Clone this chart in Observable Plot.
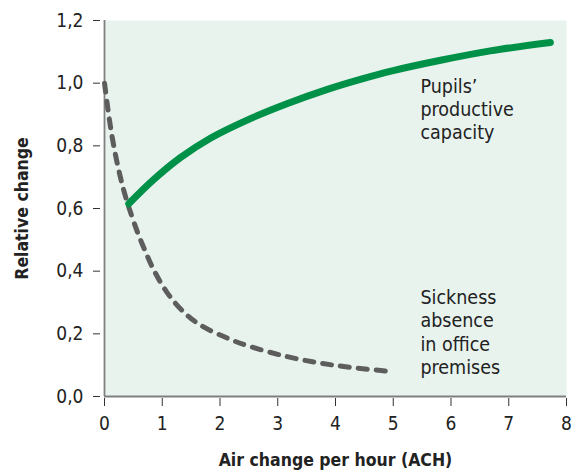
<!DOCTYPE html>
<html>
<head>
<meta charset="utf-8">
<script src="https://cdn.jsdelivr.net/npm/d3@7"></script>
<script src="https://cdn.jsdelivr.net/npm/@observablehq/plot@0.6"></script>
<style>
  html, body { margin: 0; padding: 0; background: #ffffff; }
  svg text { font-stretch: condensed; }
</style>
</head>
<body>
<div id="chart"></div>
<script>
// Pupils' productive capacity (solid green)
const pupilsX = [0.42, 0.85, 1.32, 1.84, 2.48, 3.17, 3.86, 4.43, 5.0, 5.82, 6.68, 7.72];
const pupilsY = [0.615, 0.692, 0.763, 0.825, 0.883, 0.935, 0.98, 1.012, 1.04, 1.073, 1.103, 1.13];

// Sickness absence in office premises (dashed grey)
const sickX = [0, 0.05, 0.1, 0.16, 0.24, 0.33, 0.42, 0.57, 0.68, 0.85, 1.09, 1.37, 1.66, 2.13, 2.48, 3.1, 3.69, 4.26, 5.0];
const sickY = [1.0, 0.93, 0.865, 0.8, 0.728, 0.66, 0.605, 0.525, 0.475, 0.405, 0.33, 0.27, 0.228, 0.186, 0.162, 0.13, 0.108, 0.093, 0.079];

const xTicks = [0, 1, 2, 3, 4, 5, 6, 7, 8];
const yTicks = [0, 0.2, 0.4, 0.6, 0.8, 1.0, 1.2];

const xLabel = "Air change per hour (ACH)";
const yLabel = "Relative change";
const pupilsLabel = "Pupils’\nproductive\ncapacity";
const sickLabel = "Sickness\nabsence\nin office\npremises";
const pupilsLabelPos = {x: 5.47, y: 1.02};
const sickLabelPos = {x: 5.47, y: 0.347};

const pupils = pupilsX.map((x, i) => ({x, y: pupilsY[i]}));
const sick = sickX.map((x, i) => ({x, y: sickY[i]}));

const font = "'DejaVu Sans Condensed', 'Liberation Sans Narrow', 'DejaVu Sans', sans-serif";

const chart = Plot.plot({
  width: 575,
  height: 472,
  marginLeft: 104,
  marginRight: 9,
  marginTop: 20,
  marginBottom: 76,
  x: {domain: [0, 8]},
  y: {domain: [0, 1.2]},
  style: {fontFamily: font, fontSize: "19px", color: "#222", background: "#ffffff"},
  marks: [
    Plot.frame({fill: "#e8f3ee", stroke: null}),
    Plot.axisY(yTicks, {
      tickSize: 7, dx: -4, tickPadding: 10, label: null,
      tickFormat: d => d.toFixed(1).replace(".", ","),
      fontSize: 19, stroke: "#333", fill: "#222"
    }),
    Plot.axisX(xTicks, {
      tickSize: 8, dy: 2, tickPadding: 10, label: null,
      tickFormat: d => String(d), fontSize: 19, stroke: "#333", fill: "#222"
    }),
    Plot.ruleX([0], {stroke: "#808080", strokeWidth: 1.8}),
    Plot.ruleY([0], {stroke: "#808080", strokeWidth: 1.8}),
    Plot.line(sick, {
      x: "x", y: "y", curve: "catmull-rom",
      stroke: "#5d5d5d", strokeWidth: 5, strokeDasharray: "9,9",
      strokeLinecap: "round"
    }),
    Plot.line(pupils, {
      x: "x", y: "y", curve: "catmull-rom",
      stroke: "#009148", strokeWidth: 7, strokeLinecap: "round"
    }),
    Plot.text([pupilsLabel], {
      x: pupilsLabelPos.x, y: pupilsLabelPos.y, text: d => d,
      textAnchor: "start", lineAnchor: "top", lineHeight: 1.18,
      fontSize: 19.5, fill: "#222"
    }),
    Plot.text([sickLabel], {
      x: sickLabelPos.x, y: sickLabelPos.y, text: d => d,
      textAnchor: "start", lineAnchor: "top", lineHeight: 1.19,
      fontSize: 19.5, fill: "#222"
    }),
    Plot.text([xLabel], {
      frameAnchor: "bottom", dy: 64, text: d => d, lineAnchor: "middle", textAnchor: "middle",
      fontSize: 17.5, fontWeight: "bold", fill: "#222"
    }),
    Plot.text([yLabel], {
      frameAnchor: "left", dx: -82, rotate: -90, text: d => d, lineAnchor: "middle", textAnchor: "middle",
      fontSize: 17.5, fontWeight: "bold", fill: "#222"
    })
  ]
});

document.getElementById("chart").appendChild(chart);
</script>
</body>
</html>
